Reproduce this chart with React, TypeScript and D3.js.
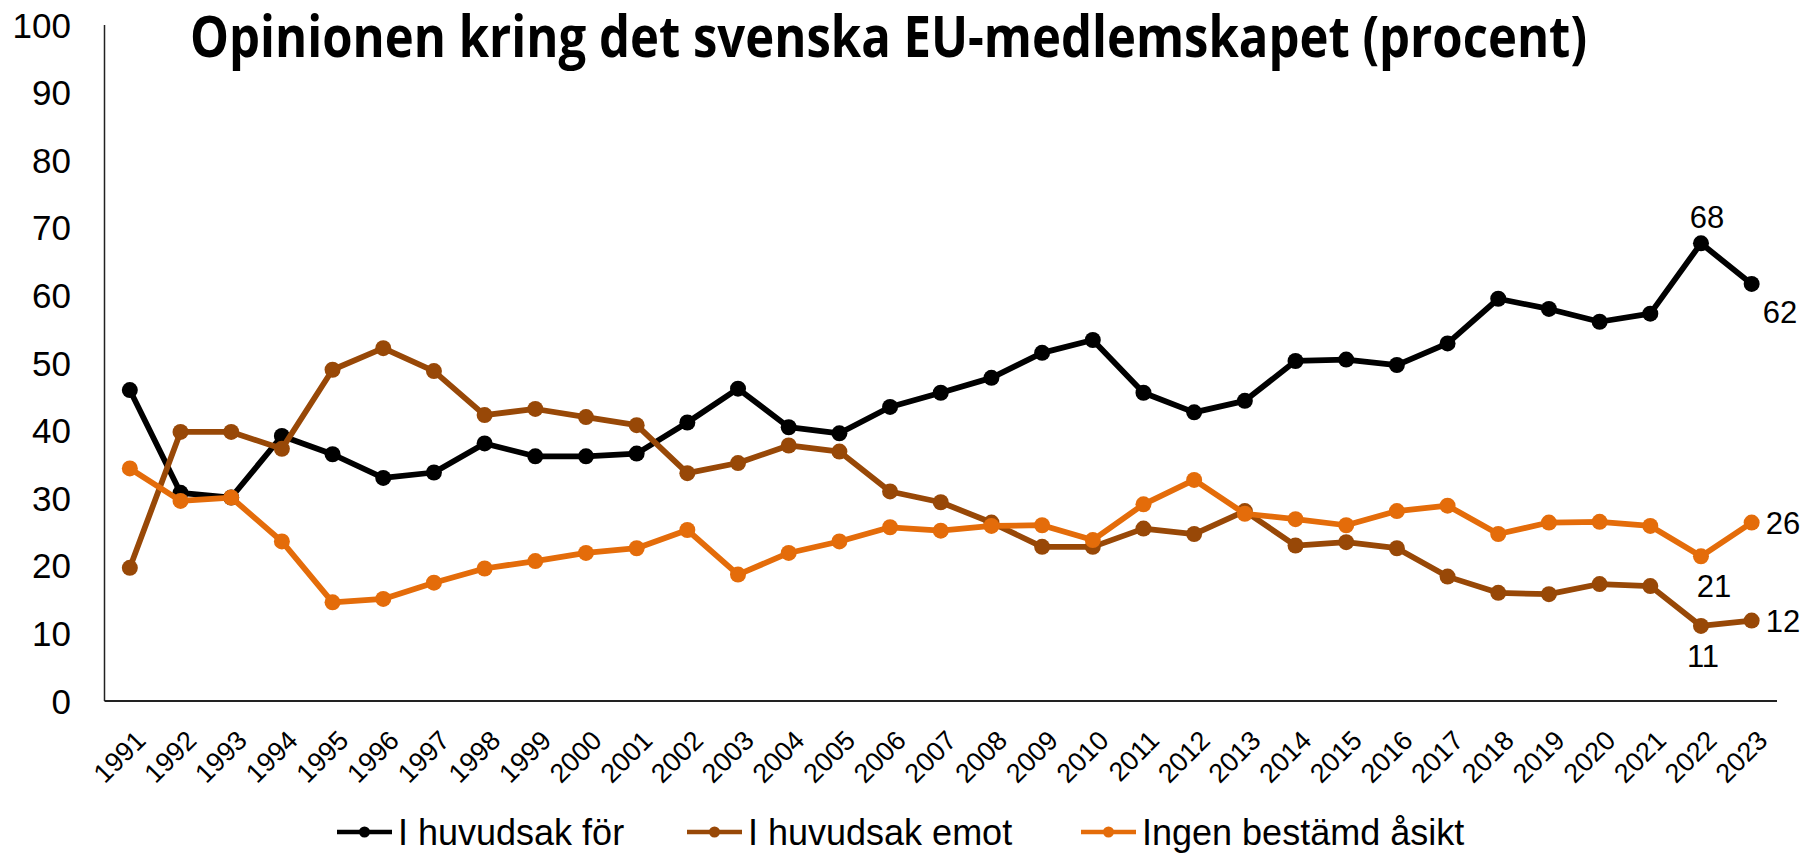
import React from "react";
import * as d3 from "d3";

const WIDTH = 1803;
const HEIGHT = 853;
const TITLE = "Opinionen kring det svenska EU-medlemskapet (procent)";

const years = d3.range(1991, 2024).map(String);

const forValues = [
  46, 30.8, 30.1, 39.2, 36.5, 33, 33.8, 38.1, 36.2, 36.2, 36.6, 41.2, 46.2,
  40.5, 39.6, 43.5, 45.6, 47.8, 51.5, 53.4, 45.6, 42.7, 44.4, 50.3, 50.5,
  49.7, 52.9, 59.5, 58, 56.1, 57.3, 67.7, 61.7,
];
const emotValues = [
  19.7, 39.8, 39.8, 37.3, 49, 52.2, 48.8, 42.3, 43.2, 42, 40.8, 33.7, 35.2,
  37.8, 36.9, 31, 29.4, 26.4, 22.8, 22.8, 25.5, 24.7, 28.1, 23, 23.5, 22.6,
  18.4, 16, 15.8, 17.3, 17, 11.1, 11.9,
];
const ingenValues = [
  34.4, 29.6, 30.1, 23.6, 14.6, 15.1, 17.5, 19.6, 20.7, 21.9, 22.6, 25.3,
  18.7, 21.9, 23.6, 25.7, 25.2, 25.9, 26, 23.8, 29.1, 32.7, 27.7, 26.9, 26,
  28.1, 28.9, 24.7, 26.4, 26.5, 25.9, 21.4, 26.4,
];

const seriesNames = ["I huvudsak för", "I huvudsak emot", "Ingen bestämd åsikt"];
const seriesColors = ["#000000", "#984807", "#E46C0A"];
const seriesValues = [forValues, emotValues, ingenValues];

const yTicks = d3.range(0, 101, 10);

// data labels: series index, year, placement
const dataLabels = [
  { s: 0, year: "2022", pos: "above" },
  { s: 0, year: "2023", pos: "belowRight" },
  { s: 2, year: "2022", pos: "below" },
  { s: 2, year: "2023", pos: "right" },
  { s: 1, year: "2022", pos: "belowLeft" },
  { s: 1, year: "2023", pos: "right" },
];

const legendX = [337, 687, 1081];

const FONT = "'Liberation Sans', Arial, sans-serif";

export default function App() {
  const x = d3
    .scalePoint<string>()
    .domain(years)
    .range([104.5, 1777])
    .padding(0.5);
  const y = d3.scaleLinear().domain([0, 100]).range([701, 25]);

  const line = d3
    .line<number>()
    .x((_, i) => x(years[i]) as number)
    .y((d) => y(d));

  const labelProps = (pos: string, px: number, py: number) => {
    switch (pos) {
      case "above":
        return { x: px + 6, y: py - 15, anchor: "middle" };
      case "belowRight":
        return { x: px + 11, y: py + 39, anchor: "start" };
      case "below":
        return { x: px + 13, y: py + 41, anchor: "middle" };
      case "belowLeft":
        return { x: px + 2, y: py + 41, anchor: "middle" };
      default:
        return { x: px + 14, y: py + 11, anchor: "start" };
    }
  };

  return (
    <svg
      width={WIDTH}
      height={HEIGHT}
      style={{ position: "fixed", left: 0, top: 0, display: "block" }}
    >
      <rect width={WIDTH} height={HEIGHT} fill="#fff" />
      {/* Title */}
      <text
        x={190}
        y={57}
        fontFamily="'Open Sans', 'Noto Sans', sans-serif"
        fontWeight={700}
        fontSize={57}
        textLength={1397}
        lengthAdjust="spacingAndGlyphs"
        fill="#000"
      >
        {TITLE}
      </text>

      {/* Y axis */}
      <line x1={104.5} x2={104.5} y1={y(100)} y2={y(0)} stroke="#222" strokeWidth={1.5} />
      {yTicks.map((t) => (
        <text
          key={t}
          x={71}
          y={y(t)}
          dy="0.36em"
          textAnchor="end"
          fontFamily={FONT}
          fontSize={35}
          fill="#000"
        >
          {t}
        </text>
      ))}

      {/* X axis */}
      <line x1={104.5} x2={1777} y1={y(0)} y2={y(0)} stroke="#222" strokeWidth={2} />
      {years.map((yr) => (
        <text
          key={yr}
          transform={`translate(${(x(yr) as number) + 17.5},${742}) rotate(-45)`}
          textAnchor="end"
          fontFamily={FONT}
          fontSize={27}
          fill="#000"
        >
          {yr}
        </text>
      ))}

      {/* Series */}
      {seriesValues.map((vals, si) => (
        <g key={si}>
          <path
            d={line(vals) || ""}
            fill="none"
            stroke={seriesColors[si]}
            strokeWidth={5.75}
            strokeLinejoin="round"
          />
          {vals.map((v, i) => (
            <circle
              key={i}
              cx={x(years[i]) as number}
              cy={y(v)}
              r={8}
              fill={seriesColors[si]}
            />
          ))}
        </g>
      ))}

      {/* Data labels */}
      {dataLabels.map((d, i) => {
        const idx = years.indexOf(d.year);
        const v = seriesValues[d.s][idx];
        const p = labelProps(d.pos, x(d.year) as number, y(v));
        return (
          <text
            key={i}
            x={p.x}
            y={p.y}
            textAnchor={p.anchor as any}
            fontFamily={FONT}
            fontSize={31}
            fill="#000"
          >
            {Math.round(v)}
          </text>
        );
      })}

      {/* Legend */}
      {seriesNames.map((name, i) => (
        <g key={name} transform={`translate(${legendX[i]},832)`}>
          <line x1={0} x2={55} y1={0} y2={0} stroke={seriesColors[i]} strokeWidth={4.5} />
          <circle cx={27.5} cy={0} r={5.5} fill={seriesColors[i]} />
          <text x={61} y={0} dy="0.35em" fontFamily={FONT} fontSize={36} fill="#000">
            {name}
          </text>
        </g>
      ))}
    </svg>
  );
}
